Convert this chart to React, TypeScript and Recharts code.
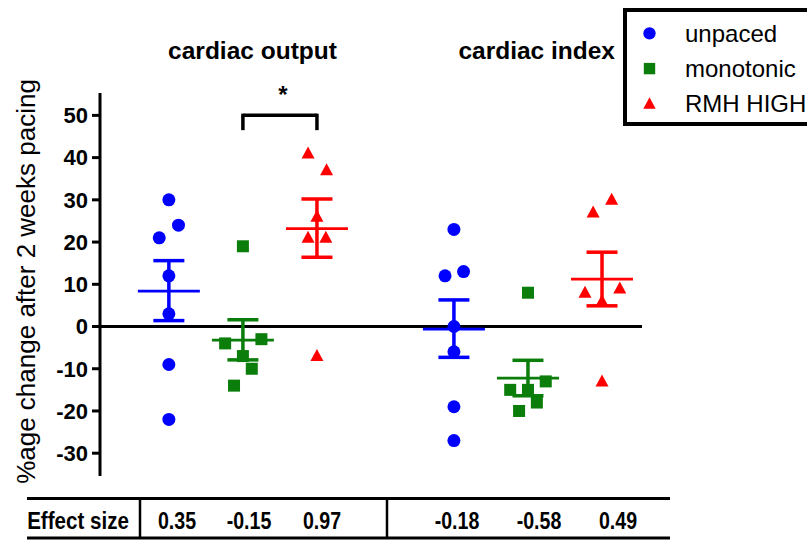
import {
  ComposedChart,
  Scatter,
  XAxis,
  YAxis,
  ReferenceLine,
  ErrorBar,
} from 'recharts';

const BLUE = '#0000ff';
const GREEN = '#0a7d0a';
const RED = '#ff0000';
const FONT = "'Liberation Sans', Arial, sans-serif";

// x positions of the six groups (cardiac output: 1-3, cardiac index: 4.85-6.85)
const GROUP_X = [1, 2, 3, 4.85, 5.85, 6.85];

const unpacedCO = [
  { x: 1, y: 30 }, { x: 1.13, y: 24 }, { x: 0.87, y: 21 }, { x: 1, y: 12 },
  { x: 1, y: 3 }, { x: 1, y: -9 }, { x: 1, y: -22 },
];
const monotonicCO = [
  { x: 2, y: 19 }, { x: 1.76, y: -4 }, { x: 2.25, y: -3 }, { x: 2, y: -7 },
  { x: 2.12, y: -10 }, { x: 1.88, y: -14 },
];
const rmhCO = [
  { x: 2.88, y: 41 }, { x: 3.13, y: 37 }, { x: 3, y: 26 }, { x: 2.88, y: 21 },
  { x: 3.12, y: 21 }, { x: 3, y: -7 },
];
const unpacedCI = [
  { x: 4.85, y: 23 }, { x: 4.98, y: 13 }, { x: 4.73, y: 12 }, { x: 4.85, y: 0 },
  { x: 4.85, y: -6 }, { x: 4.85, y: -19 }, { x: 4.85, y: -27 },
];
const monotonicCI = [
  { x: 5.85, y: 8 }, { x: 5.61, y: -15 }, { x: 5.85, y: -15 }, { x: 6.09, y: -13 },
  { x: 5.97, y: -18 }, { x: 5.73, y: -20 },
];
const rmhCI = [
  { x: 6.98, y: 30 }, { x: 6.73, y: 27 }, { x: 6.62, y: 8 }, { x: 7.09, y: 9 },
  { x: 6.85, y: 6 }, { x: 6.85, y: -13 },
];

// mean and SEM limits per group, same order as GROUP_X
const MEANS = [8.4, -3.2, 23.2, -0.6, -12.2, 11.2];
const SEM_HI = [15.6, 1.6, 30.2, 6.3, -8.0, 17.6];
const SEM_LO = [1.4, -7.9, 16.4, -7.3, -16.4, 4.9];

const EFFECT_SIZES = ['0.35', '-0.15', '0.97', '-0.18', '-0.58', '0.49'];
const Y_TICKS = [-30, -20, -10, 0, 10, 20, 30, 40, 50];

const SERIES = [
  { name: 'unpaced', color: BLUE, marker: 'circle', groups: [0, 3], data: [unpacedCO, unpacedCI] },
  { name: 'monotonic', color: GREEN, marker: 'square', groups: [1, 4], data: [monotonicCO, monotonicCI] },
  { name: 'RMH HIGH', color: RED, marker: 'triangle', groups: [2, 5], data: [rmhCO, rmhCI] },
];

const marker = (kind: string, color: string, cx: number, cy: number, s = 1) => {
  if (kind === 'circle') return <circle cx={cx} cy={cy} r={6.5 * s} fill={color} />;
  if (kind === 'square') return <rect x={cx - 6 * s} y={cy - 6 * s} width={12 * s} height={12 * s} fill={color} />;
  return (
    <polygon
      points={`${cx},${cy - 7 * s} ${cx - 6.5 * s},${cy + 5 * s} ${cx + 6.5 * s},${cy + 5 * s}`}
      fill={color}
    />
  );
};

const meanLine = (color: string) => (p: any) => (
  <line x1={p.cx - 31} x2={p.cx + 31} y1={p.cy} y2={p.cy} stroke={color} strokeWidth={2.8} />
);

// table column centres (px)
const TABLE_COLS = [177, 249, 322, 457, 539, 618];

export default function App() {
  return (
    <div
      style={{
        position: 'absolute',
        left: 0,
        top: 0,
        width: 807,
        height: 540,
        overflow: 'hidden',
        background: '#fff',
        fontFamily: FONT,
      }}
    >
      <ComposedChart width={807} height={540} margin={{ top: 93, right: 165, bottom: 64, left: 0 }}>
        <XAxis type="number" dataKey="x" domain={[0.07, 7.39]} hide allowDataOverflow />
        <YAxis
          type="number"
          dataKey="y"
          width={100}
          domain={[-35.4, 55.3]}
          ticks={Y_TICKS}
          allowDataOverflow
          interval={0}
          tickSize={8}
          tickMargin={4}
          axisLine={{ stroke: '#000', strokeWidth: 3 }}
          tickLine={{ stroke: '#000', strokeWidth: 3 }}
          tick={{ fill: '#000', fontSize: 22, fontWeight: 'bold', fontFamily: FONT }}
        />
        <ReferenceLine y={0} stroke="#000" strokeWidth={3} />
        <ReferenceLine segment={[{ x: 2, y: 50.05 }, { x: 3, y: 50.05 }]} stroke="#000" strokeWidth={3.5} />
        <ReferenceLine segment={[{ x: 2, y: 50.4 }, { x: 2, y: 46.5 }]} stroke="#000" strokeWidth={3.5} />
        <ReferenceLine segment={[{ x: 3, y: 50.4 }, { x: 3, y: 46.5 }]} stroke="#000" strokeWidth={3.5} />
        {SERIES.map((s) =>
          s.groups.map((g) => (
            <Scatter
              key={`mean-${s.name}-${g}`}
              data={[{ x: GROUP_X[g], y: MEANS[g], err: [MEANS[g] - SEM_LO[g], SEM_HI[g] - MEANS[g]] }]}
              shape={meanLine(s.color)}
              isAnimationActive={false}
            >
              <ErrorBar
                dataKey="err"
                direction="y"
                width={15.5}
                stroke={s.color}
                strokeWidth={3.5}
                isAnimationActive={false}
              />
            </Scatter>
          ))
        )}
        {SERIES.map((s) =>
          s.data.map((d, i) => (
            <Scatter
              key={`pts-${s.name}-${i}`}
              data={d}
              isAnimationActive={false}
              shape={(p: any) => marker(s.marker, s.color, p.cx, p.cy)}
            />
          ))
        )}
      </ComposedChart>

      <svg
        width={807}
        height={540}
        style={{ position: 'absolute', left: 0, top: 0, pointerEvents: 'none' }}
        fontFamily={FONT}
      >
        <text x={252.5} y={59} textAnchor="middle" fontSize={24.5} fontWeight="bold">cardiac output</text>
        <text x={536.7} y={59} textAnchor="middle" fontSize={24.5} fontWeight="bold">cardiac index</text>
        <text x={283} y={103} textAnchor="middle" fontSize={24} fontWeight="bold">*</text>
        <text transform="translate(35,281.5) rotate(-90)" textAnchor="middle" fontSize={26}>
          %age change after 2 weeks pacing
        </text>

        {/* legend */}
        <rect x={625} y={10} width={200} height={114} fill="#fff" stroke="#000" strokeWidth={4} />
        {SERIES.map((s, i) => (
          <g key={s.name}>
            {marker(s.marker, s.color, 649.5, 33.3 + i * 35.3, 0.95)}
            <text x={685} y={42.3 + i * 35} fontSize={24}>{s.name}</text>
          </g>
        ))}

        {/* effect size table */}
        <line x1={27} x2={670} y1={498.5} y2={498.5} stroke="#000" strokeWidth={3} />
        <line x1={27} x2={670} y1={538} y2={538} stroke="#000" strokeWidth={3} />
        <line x1={140} x2={140} y1={498.5} y2={538} stroke="#000" strokeWidth={2.5} />
        <line x1={387} x2={387} y1={498.5} y2={538} stroke="#000" strokeWidth={2.5} />
        <text transform="translate(78,528.5) scale(0.84,1)" textAnchor="middle" fontSize={24.5} fontWeight="bold">
          Effect size
        </text>
        {EFFECT_SIZES.map((v, i) => (
          <text
            key={i}
            transform={`translate(${TABLE_COLS[i]},528.5) scale(0.8,1)`}
            textAnchor="middle"
            fontSize={24.5}
            fontWeight="bold"
          >
            {v}
          </text>
        ))}
      </svg>
    </div>
  );
}
